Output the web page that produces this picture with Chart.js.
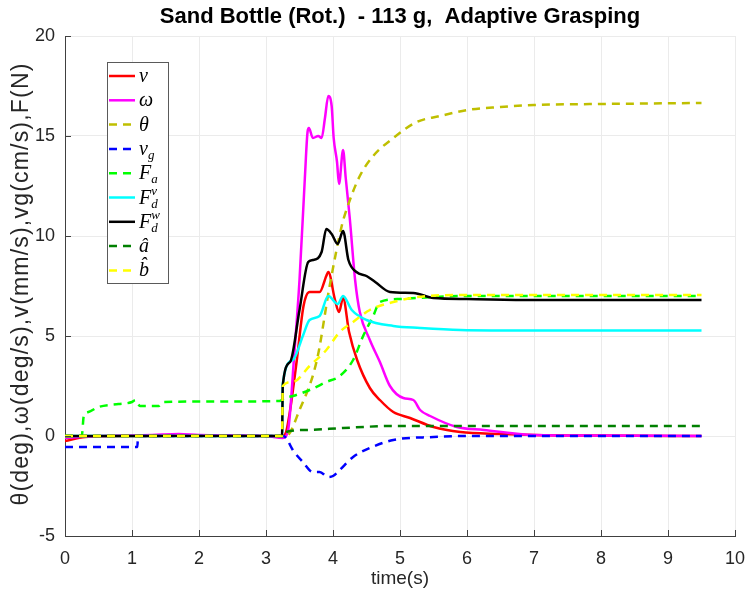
<!DOCTYPE html>
<html>
<head>
<meta charset="utf-8">
<script src="https://cdn.jsdelivr.net/npm/chart.js@4"></script>
<style>
  html, body { margin: 0; padding: 0; background: #fff; }
</style>
</head>
<body>
<canvas id="chart" width="748" height="598"></canvas>
<script>
// time (s) and value per series
const vT = [0, 0.3, 1, 2, 3, 3.25, 3.3, 3.36, 3.46, 3.56, 3.65, 3.8, 3.9, 3.93, 4.03, 4.09, 4.15, 4.24, 4.36, 4.55, 4.7, 4.9, 5.15, 5.5, 5.9, 6.5, 7, 8, 9.5]
const vY = [-0.25, -0.05, 0, 0.02, 0, 0, 0.2, 1.3, 3.8, 6.5, 7.2, 7.2, 8.0, 8.2, 6.8, 6.2, 6.9, 5.2, 3.8, 2.4, 1.8, 1.2, 0.9, 0.45, 0.2, 0.1, 0.05, 0.02, 0]

const wT = [0, 0.5, 1.3, 1.7, 2.0, 3.0, 3.25, 3.33, 3.42, 3.5, 3.58, 3.62, 3.64, 3.7, 3.78, 3.83, 3.88, 3.93, 3.98, 4.01, 4.06, 4.09, 4.15, 4.19, 4.25, 4.33, 4.4, 4.55, 4.7, 4.85, 5.05, 5.2, 5.3, 5.45, 5.85, 6.25, 7, 8, 9.5]
const wY = [-0.1, 0, 0.05, 0.1, 0.05, 0, -0.1, 0.3, 4.0, 7.8, 12.9, 15.2, 15.4, 14.9, 15.0, 14.9, 15.9, 17.0, 16.5, 14.9, 13.7, 12.6, 14.3, 12.9, 10.9, 7.8, 6.2, 4.8, 3.7, 2.5, 1.9, 1.8, 1.3, 1.0, 0.45, 0.3, 0.05, 0.02, 0]

const thT = [0, 3.3, 3.5, 3.76, 3.95, 4.13, 4.22, 4.4, 4.6, 4.9, 5.25, 5.6, 6, 6.5, 7, 8, 9.5]
const thY = [0, 0, 1.3, 3.8, 7.5, 10.5, 11.5, 13.0, 14.0, 14.9, 15.7, 16.0, 16.3, 16.45, 16.55, 16.6, 16.65]

const vgT = [0, 1.08, 1.09, 3.25, 3.3, 3.4, 3.55, 3.7, 3.8, 3.93, 4.0, 4.1, 4.3, 4.55, 4.9, 5.5, 6, 9.5]
const vgY = [-0.55, -0.55, 0, 0, -0.1, -0.7, -1.3, -1.8, -1.8, -2.05, -2.0, -1.7, -1.05, -0.6, -0.2, -0.05, 0, 0]

const faT = [0, 0.25, 0.28, 0.35, 0.5, 0.8, 1.0, 1.05, 1.12, 1.4, 1.47, 2, 3.2, 3.28, 3.4, 3.65, 3.9, 4.1, 4.3, 4.45, 4.6, 4.7, 5.0, 5.5, 6, 9.5]
const faY = [0, 0, 1.0, 1.2, 1.45, 1.6, 1.7, 1.8, 1.5, 1.5, 1.7, 1.72, 1.75, 1.9, 2.0, 2.3, 2.7, 3.0, 3.8, 5.0, 6.0, 6.7, 6.85, 6.95, 7.0, 7.0]

const fdvT = [0, 3.24, 3.25, 3.4, 3.55, 3.65, 3.8, 3.93, 4.07, 4.15, 4.28, 4.5, 4.9, 5.3, 5.9, 7, 9.5]
const fdvY = [0, 0, 2.6, 3.8, 5.0, 5.8, 6.0, 7.0, 6.6, 7.0, 6.3, 5.8, 5.5, 5.4, 5.3, 5.27, 5.27]

const fdwT = [0, 3.24, 3.25, 3.36, 3.5, 3.63, 3.7, 3.83, 3.9, 3.98, 4.07, 4.15, 4.23, 4.35, 4.5, 4.63, 4.85, 5.2, 5.5, 6, 7, 9.5]
const fdwY = [0, 0, 2.5, 3.7, 6.3, 8.7, 8.8, 9.2, 10.35, 10.1, 9.6, 10.25, 8.8, 8.2, 8.0, 7.7, 7.2, 7.15, 6.9, 6.85, 6.8, 6.8]

const aT = [0, 3.28, 3.3, 3.6, 4.15, 4.9, 9.5]
const aY = [0, 0, 0.2, 0.3, 0.4, 0.5, 0.5]

const bT = [0, 3.24, 3.25, 3.4, 3.65, 3.9, 4.1, 4.3, 4.55, 4.9, 5.4, 6, 9.5]
const bY = [0, 0, 2.5, 2.7, 3.5, 4.3, 5.2, 5.7, 6.3, 6.7, 7.0, 7.05, 7.05]

const xTicks = [0, 1, 2, 3, 4, 5, 6, 7, 8, 9, 10]
const yTicks = [-5, 0, 5, 10, 15, 20]

const pts = (t, y) => t.map((x, i) => ({ x: x, y: y[i] }))

// legend text pieces: main, subscript, superscript
const legendText = [
  ['v', '', ''], ['ω', '', ''], ['θ', '', ''], ['v', 'g', ''], ['F', 'a', ''],
  ['F', 'd', 'v'], ['F', 'd', 'w'], ['â', '', ''], ['b\u0302', '', '']
]

const titleText = 'Sand Bottle (Rot.)  - 113 g,  Adaptive Grasping'
const yTitle = 'θ(deg),ω(deg/s),v(mm/s),vg(cm/s),F(N)'

const dash = [8, 6]
const series = [
  { label: 'v', data: pts(vT, vY), borderColor: '#ff0000' },
  { label: 'ω', data: pts(wT, wY), borderColor: '#ff00ff' },
  { label: 'θ', data: pts(thT, thY), borderColor: '#bfbf00', borderDash: dash },
  { label: 'v_g', data: pts(vgT, vgY), borderColor: '#0000ff', borderDash: dash },
  { label: 'F_a', data: pts(faT, faY), borderColor: '#00ff00', borderDash: dash },
  { label: 'F_d^v', data: pts(fdvT, fdvY), borderColor: '#00ffff' },
  { label: 'F_d^w', data: pts(fdwT, fdwY), borderColor: '#000000' },
  { label: 'â', data: pts(aT, aY), borderColor: '#008000', borderDash: dash },
  { label: 'b̂', data: pts(bT, bY), borderColor: '#ffff00', borderDash: dash }
]
series.forEach((s, i) => {
  s.borderWidth = 2.5
  s.pointRadius = 0
  s.fill = false
  s.cubicInterpolationMode = 'monotone'
  s.order = series.length - i   // later series on top, like matlab
})

const fontFam = '"Liberation Sans", Arial, sans-serif'

const legendBox = {
  id: 'legendBox',
  afterDraw(chart) {
    const ctx = chart.ctx
    ctx.save()
    ctx.fillStyle = '#fff'
    ctx.fillRect(107, 62, 61, 221)
    ctx.strokeStyle = '#5a5a5a'
    ctx.lineWidth = 1
    ctx.strokeRect(107.5, 62.5, 61, 221)
    series.forEach((s, i) => {
      const y = 76 + i * 24.3
      ctx.setLineDash(s.borderDash || [])
      ctx.strokeStyle = s.borderColor
      ctx.lineWidth = 2.5
      ctx.beginPath()
      ctx.moveTo(109, y)
      ctx.lineTo(135, y)
      ctx.stroke()
      const [m, sub, sup] = legendText[i]
      ctx.fillStyle = '#000'
      ctx.textBaseline = 'alphabetic'
      ctx.textAlign = 'left'
      ctx.font = 'italic 20px "Liberation Serif", serif'
      ctx.fillText(m, 139, y + 6)
      const w = ctx.measureText(m).width
      ctx.font = 'italic 13px "Liberation Serif", serif'
      if (sub) ctx.fillText(sub, 139 + w, y + 10)
      if (sup) ctx.fillText(sup, 139 + w, y - 3)
    })
    ctx.restore()
  }
}

// title centred over the axes, y label a bit spaced like matlab's tex text
const axesTitles = {
  id: 'axesTitles',
  afterDraw(chart) {
    const ctx = chart.ctx
    const a = chart.chartArea
    ctx.save()
    ctx.fillStyle = '#000'
    ctx.font = 'bold 22px ' + fontFam
    ctx.textAlign = 'center'
    ctx.textBaseline = 'middle'
    ctx.fillText(titleText, (a.left + a.right) / 2, 17)
    ctx.translate(22, (a.top + a.bottom) / 2 - 2)
    ctx.rotate(-Math.PI / 2)
    ctx.fillStyle = '#262626'
    ctx.font = '23px ' + fontFam
    ctx.letterSpacing = '1.2px'
    ctx.fillText(yTitle, 0, 0)
    ctx.restore()
  }
}

// matlab style ticks pointing into the axes
const innerTicks = {
  id: 'innerTicks',
  afterDatasetsDraw(chart) {
    const ctx = chart.ctx
    const a = chart.chartArea
    const xs = chart.scales.x, ys = chart.scales.y
    ctx.save()
    ctx.strokeStyle = '#404040'
    ctx.lineWidth = 1
    ctx.beginPath()
    xTicks.forEach(t => {
      const px = Math.round(xs.getPixelForValue(t)) + 0.5
      ctx.moveTo(px, a.bottom)
      ctx.lineTo(px, a.bottom - 6)
    })
    yTicks.forEach(t => {
      const py = Math.round(ys.getPixelForValue(t)) + 0.5
      ctx.moveTo(a.left, py)
      ctx.lineTo(a.left + 6, py)
    })
    ctx.stroke()
    ctx.restore()
  }
}

const ctx = document.getElementById('chart')
const myChart = new Chart(ctx, {
  type: 'line',
  data: { datasets: series },
  options: {
    responsive: false,
    animation: false,
    layout: { padding: { top: 36, right: 13, left: 0, bottom: 0 } },
    plugins: {
      legend: { display: false },
      tooltip: { enabled: false },
      title: { display: false }
    },
    scales: {
      x: {
        type: 'linear',
        min: 0,
        max: 10,
        afterFit: s => { s.height = 62; s.paddingLeft = 0; s.paddingRight = 0 },
        afterBuildTicks: s => { s.ticks = xTicks.map(v => ({ value: v })) },
        ticks: { color: '#262626', font: { family: fontFam, size: 18 }, padding: 12, maxRotation: 0, autoSkip: false },
        grid: { color: '#ebebeb', drawTicks: false },
        border: { color: '#404040' },
        title: { display: true, text: 'time(s)', color: '#262626', font: { family: fontFam, size: 19 }, padding: { top: 0, bottom: 8 } }
      },
      y: {
        min: -5,
        max: 20,
        afterFit: s => { s.width = 65; s.paddingTop = 0; s.paddingBottom = 0 },
        afterBuildTicks: s => { s.ticks = yTicks.map(v => ({ value: v })) },
        ticks: { color: '#262626', font: { family: fontFam, size: 18 }, padding: 10 },
        grid: { color: '#ebebeb', drawTicks: false },
        border: { color: '#404040' }
      }
    }
  },
  plugins: [innerTicks, legendBox, axesTitles]
})
</script>
</body>
</html>
